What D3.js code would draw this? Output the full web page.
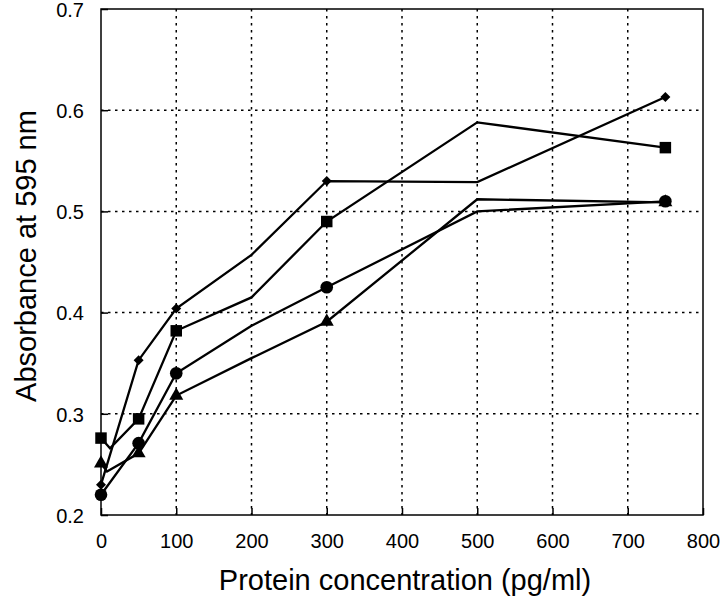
<!DOCTYPE html>
<html>
<head>
<meta charset="utf-8">
<script src="https://cdn.jsdelivr.net/npm/d3@7"></script>
<style>
  html, body { margin: 0; padding: 0; background: #fff; }
  svg { display: block; }
  text { font-family: "Liberation Sans", Arial, sans-serif; fill: #000; }
</style>
</head>
<body>
<svg id="chart" width="720" height="608"></svg>
<script>
// ---- data ----
const xTicks = [0, 100, 200, 300, 400, 500, 600, 700, 800];
const yTicks = [0.2, 0.3, 0.4, 0.5, 0.6, 0.7];
const markerX = [0, 50, 100, 300, 750];

const diamondX = [0, 50, 100, 200, 300, 500, 750];
const diamondY = [0.230, 0.353, 0.404, 0.457, 0.530, 0.529, 0.613];

const squareX = [0, 12, 50, 100, 200, 300, 500, 750];
const squareY = [0.276, 0.266, 0.295, 0.382, 0.415, 0.490, 0.588, 0.563];

const circleX = [0, 50, 100, 200, 300, 500, 750];
const circleY = [0.220, 0.271, 0.340, 0.387, 0.425, 0.500, 0.510];

const triangleX = [0, 8, 50, 100, 200, 300, 500, 750];
const triangleY = [0.251, 0.243, 0.261, 0.318, 0.355, 0.391, 0.512, 0.509];

const xTitle = "Protein concentration (pg/ml)";
const yTitle = "Absorbance at 595 nm";

const series = [
  { shape: "diamond", xs: diamondX, ys: diamondY },
  { shape: "square", xs: squareX, ys: squareY },
  { shape: "circle", xs: circleX, ys: circleY },
  { shape: "triangle", xs: triangleX, ys: triangleY }
];

// ---- layout ----
const L = 101, R = 703, T = 9, B = 515;
const svg = d3.select("#chart");
const x = d3.scaleLinear().domain([0, 800]).range([L, R]);
const y = d3.scaleLinear().domain([0.2, 0.7]).range([B, T]);

// grid
const grid = svg.append("g");
grid.selectAll("line.vg").data(xTicks.slice(1, -1)).join("line")
  .attr("x1", d => x(d)).attr("x2", d => x(d)).attr("y1", T).attr("y2", B)
  .attr("stroke", "#000").attr("stroke-width", 1.5).attr("stroke-dasharray", "2.5,4.5");
grid.selectAll("line.hg").data(yTicks.slice(1, -1)).join("line")
  .attr("x1", L).attr("x2", R).attr("y1", d => y(d)).attr("y2", d => y(d))
  .attr("stroke", "#000").attr("stroke-width", 1.5).attr("stroke-dasharray", "2.5,4.5");

// axes
const xAxis = d3.axisBottom(x).tickValues(xTicks).tickSizeInner(-7).tickSizeOuter(0).tickPadding(19)
  .tickFormat(d3.format("d"));
const yAxis = d3.axisLeft(y).tickValues(yTicks).tickSizeInner(-7).tickSizeOuter(0).tickPadding(17)
  .tickFormat(d3.format(".1f"));
const gx = svg.append("g").attr("transform", `translate(0,${B})`).call(xAxis);
const gy = svg.append("g").attr("transform", `translate(${L},0)`).call(yAxis);
[gx, gy].forEach(g => {
  g.select(".domain").remove();
  g.selectAll("line").attr("stroke", "#000").attr("stroke-width", 1.5);
  g.selectAll("text").attr("font-size", 20).attr("font-family", "Liberation Sans, Arial, sans-serif").attr("fill", "#000");
});
gy.selectAll(".tick text").attr("dy", "0.36em");

// frame
svg.append("rect").attr("x", L).attr("y", T).attr("width", R - L).attr("height", B - T)
  .attr("fill", "none").attr("stroke", "#000").attr("stroke-width", 1.5);

// lines
const line = d3.line().x(d => x(d[0])).y(d => y(d[1]));
series.forEach(s => {
  const pts = s.xs.map((v, i) => [v, s.ys[i]]);
  svg.append("path").datum(pts).attr("d", line)
    .attr("fill", "none").attr("stroke", "#000").attr("stroke-width", 2.3).attr("stroke-linejoin", "miter");
});

// markers
const symType = { diamond: d3.symbolSquare, square: d3.symbolSquare, circle: d3.symbolCircle, triangle: d3.symbolTriangle };
const symSize = { diamond: 50, square: 132, circle: 125, triangle: 85 };
const symRot = { diamond: 45, square: 0, circle: 0, triangle: 0 };
series.forEach(s => {
  const pts = s.xs.map((v, i) => [v, s.ys[i]]).filter(p => markerX.includes(p[0]));
  svg.append("g").selectAll("path").data(pts).join("path")
    .attr("transform", d => `translate(${x(d[0])},${y(d[1])}) rotate(${symRot[s.shape]})`)
    .attr("d", d3.symbol().type(symType[s.shape]).size(symSize[s.shape]))
    .attr("fill", "#000");
});

// titles
svg.append("text").attr("x", 405).attr("y", 590).attr("text-anchor", "middle")
  .attr("font-size", 29).text(xTitle);
svg.append("text").attr("transform", `translate(36,256) rotate(-90)`).attr("text-anchor", "middle")
  .attr("font-size", 29).text(yTitle);
</script>
</body>
</html>
